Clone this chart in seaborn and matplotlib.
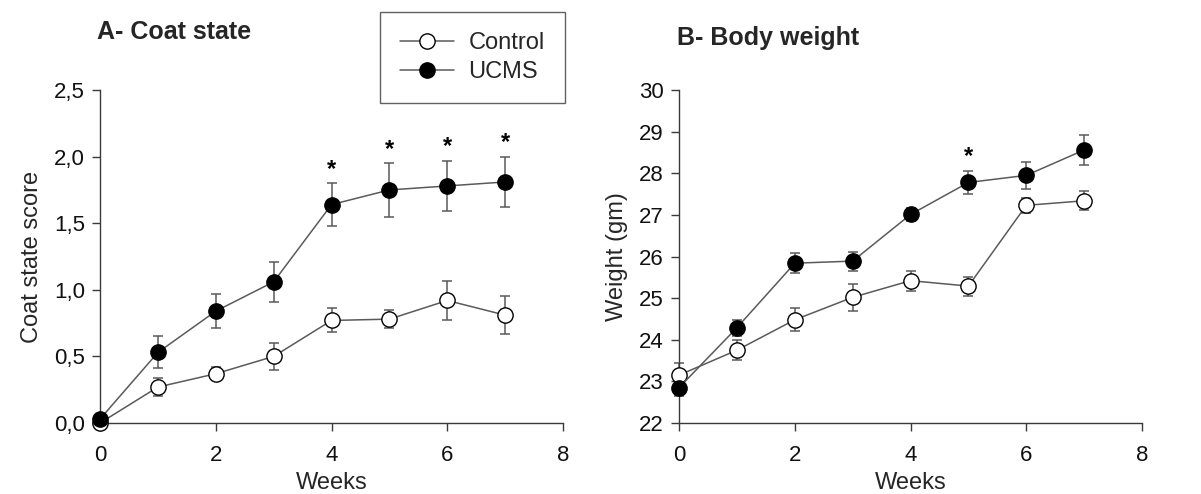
import numpy as np
import pandas as pd
import matplotlib
matplotlib.use("Agg")
import matplotlib.pyplot as plt
from matplotlib.lines import Line2D
from matplotlib.ticker import FuncFormatter
import seaborn as sns

sns.set_theme(style="white")
plt.rcParams["font.family"] = ["Liberation Sans", "DejaVu Sans"]

weeks = [0, 1, 2, 3, 4, 5, 6, 7]
groups = ["Control", "UCMS"]

# Coat state score (mean, SEM)
coat_control = [0.00, 0.27, 0.37, 0.50, 0.77, 0.78, 0.92, 0.81]
coat_control_err = [0.02, 0.07, 0.05, 0.10, 0.09, 0.07, 0.15, 0.14]
coat_ucms = [0.03, 0.53, 0.84, 1.06, 1.64, 1.75, 1.78, 1.81]
coat_ucms_err = [0.02, 0.12, 0.13, 0.15, 0.16, 0.20, 0.19, 0.19]
coat_signif = [4, 5, 6, 7]

# Body weight in grams (mean, SEM)
weight_control = [23.15, 23.75, 24.48, 25.02, 25.42, 25.29, 27.23, 27.34]
weight_control_err = [0.30, 0.24, 0.28, 0.32, 0.24, 0.23, 0.18, 0.23]
weight_ucms = [22.85, 24.29, 25.84, 25.89, 27.01, 27.78, 27.95, 28.56]
weight_ucms_err = [0.20, 0.19, 0.24, 0.23, 0.15, 0.27, 0.32, 0.36]
weight_signif = [5]

face = {"Control": "white", "UCMS": "black"}
line_col = "#5a5a5a"
axis_col = "#3a3a3a"
msize = 11


def make_frame(ctrl, ctrl_err, ucms, ucms_err):
    return pd.DataFrame({
        "week": weeks * 2,
        "group": ["Control"] * len(weeks) + ["UCMS"] * len(weeks),
        "value": list(ctrl) + list(ucms),
        "err": list(ctrl_err) + list(ucms_err),
    })


def draw_panel(ax, df, signif, ylim, yticks, fmt, ylabel, star_gap):
    for g in groups:
        sub = df[df["group"] == g]
        ax.errorbar(sub["week"], sub["value"], yerr=sub["err"], fmt="none",
                    ecolor=line_col, elinewidth=1.1, capsize=3.6,
                    capthick=1.1, zorder=2)
    for g in groups:
        sub = df[df["group"] == g]
        sns.lineplot(data=sub, x="week", y="value", ax=ax, color=line_col,
                     linewidth=1.1, marker="o", markersize=msize,
                     markerfacecolor=face[g], markeredgecolor="black",
                     markeredgewidth=1.0, errorbar=None, legend=False,
                     zorder=3 if g == "Control" else 4)
    ucms = df[df["group"] == "UCMS"].set_index("week")
    for w in signif:
        top = ucms.loc[w, "value"] + ucms.loc[w, "err"]
        ax.text(w, top + star_gap, "*", ha="center", va="bottom",
                fontsize=17, fontweight="bold", color="black")

    ax.set_xlim(0, 8)
    ax.set_ylim(*ylim)
    ax.set_xticks([0, 2, 4, 6, 8])
    ax.set_yticks(yticks)
    ax.yaxis.set_major_formatter(FuncFormatter(fmt))
    ax.set_xlabel("Weeks", fontsize=17, labelpad=4)
    ax.set_ylabel(ylabel, fontsize=17, labelpad=8)
    for side in ("top", "right"):
        ax.spines[side].set_visible(False)
    for side in ("left", "bottom"):
        ax.spines[side].set_color(axis_col)
        ax.spines[side].set_linewidth(1.0)
    ax.tick_params(axis="both", direction="out", length=6, width=1.0,
                   color=axis_col, labelsize=16, labelcolor="#111111")
    ax.tick_params(axis="x", pad=10)
    ax.tick_params(axis="y", pad=5)
    ax.tick_params(left=True, bottom=True)
    for art in ax.lines + ax.collections:
        art.set_clip_on(False)


fig = plt.figure(figsize=(12.01, 4.94), dpi=100)
ax_a = fig.add_axes([0.0833, 0.1437, 0.3855, 0.674])
ax_b = fig.add_axes([0.5654, 0.1437, 0.3855, 0.674])

coat_df = make_frame(coat_control, coat_control_err, coat_ucms, coat_ucms_err)
weight_df = make_frame(weight_control, weight_control_err, weight_ucms,
                       weight_ucms_err)

draw_panel(ax_a, coat_df, coat_signif, (0, 2.5),
           [0, 0.5, 1.0, 1.5, 2.0, 2.5],
           lambda v, p: f"{v:.1f}".replace(".", ","),
           "Coat state score", 0.02)
draw_panel(ax_b, weight_df, weight_signif, (22, 30),
           [22, 23, 24, 25, 26, 27, 28, 29, 30],
           lambda v, p: f"{v:.0f}",
           "Weight (gm)", 0.08)

fig.text(97 / 1201, 1 - 32 / 494, "A- Coat state", fontsize=18,
         fontweight="bold", ha="left", va="center")
fig.text(677 / 1201, 1 - 38 / 494, "B- Body weight", fontsize=18,
         fontweight="bold", ha="left", va="center")

handles = [
    Line2D([0], [0], color=line_col, linewidth=1.1, marker="o",
           markersize=msize, markerfacecolor=face[g], markeredgecolor="black")
    for g in groups
]
leg = fig.legend(handles, groups, loc="upper left",
                 bbox_to_anchor=(380 / 1201, 1 - 12 / 494),
                 frameon=True, fancybox=False, fontsize=17,
                 handlelength=2.3, handletextpad=0.6, borderpad=0.85,
                 labelspacing=0.3, borderaxespad=0)
leg.get_frame().set_edgecolor(axis_col)
leg.get_frame().set_linewidth(1.0)

fig.savefig("out.png", dpi=100, facecolor="white")
